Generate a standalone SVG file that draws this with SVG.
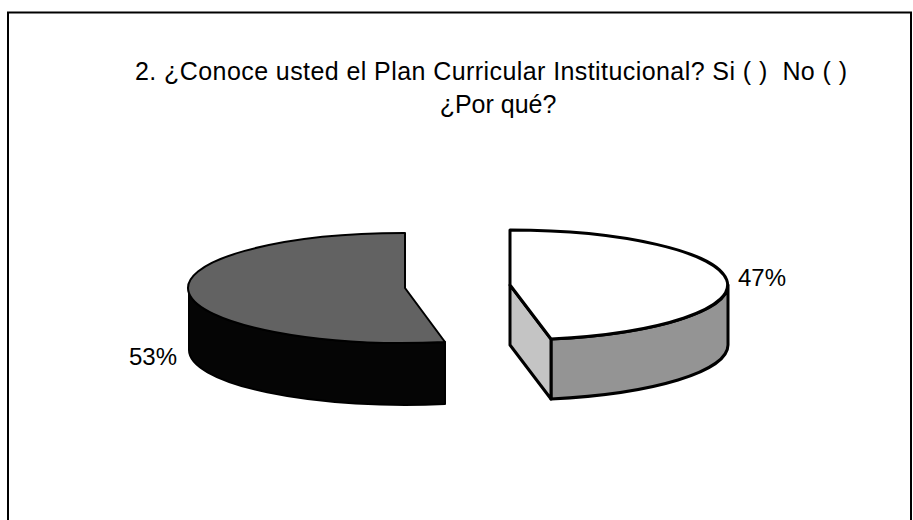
<svg xmlns="http://www.w3.org/2000/svg" width="913" height="520" viewBox="0 0 913 520">
<style>
.frame{fill:none;stroke:#000;stroke-width:2}
.t{font-family:"Liberation Sans",Arial,sans-serif;fill:#000}
.title{font-size:25px}
.lbl{font-size:24px}
.edge{stroke:#000;stroke-linejoin:round}
</style>
<rect width="913" height="520" fill="#fff"/>
<rect class="frame" x="8" y="12.5" width="903" height="540"/>
<g id="title">
<text class="t title" x="135" y="80" textLength="712" xml:space="preserve">2. ¿Conoce usted el Plan Curricular Institucional? Si ( )  No ( )</text>
<text class="t title" x="498" y="113" text-anchor="middle">¿Por qué?</text>
</g>
<g id="slice-53">
<path class="edge" d="M189,288 A216,55 0 0,0 445,342 L445,404 A216,55 0 0,1 189,350 Z" fill="#050505" stroke-width="2"/>
<path class="edge" d="M405,288 L405,233 A216,55 0 1,0 445,342 Z" fill="#626262" stroke-width="2"/>
<text class="t lbl" x="177" y="365" text-anchor="end">53%</text>
</g>
<g id="slice-47">
<path class="edge" d="M728,285 A218,55 0 0,1 551,339 L551,399 A218,55 0 0,0 728,345 Z" fill="#949494" stroke-width="3"/>
<path class="edge" d="M510,285 L551,339 L551,399 L510,345 Z" fill="#c4c4c4" stroke-width="3"/>
<path class="edge" d="M510,285 L510,230 A218,55 0 0,1 551,339 Z" fill="#fff" stroke-width="3"/>
<text class="t lbl" x="738" y="286">47%</text>
</g>
</svg>
